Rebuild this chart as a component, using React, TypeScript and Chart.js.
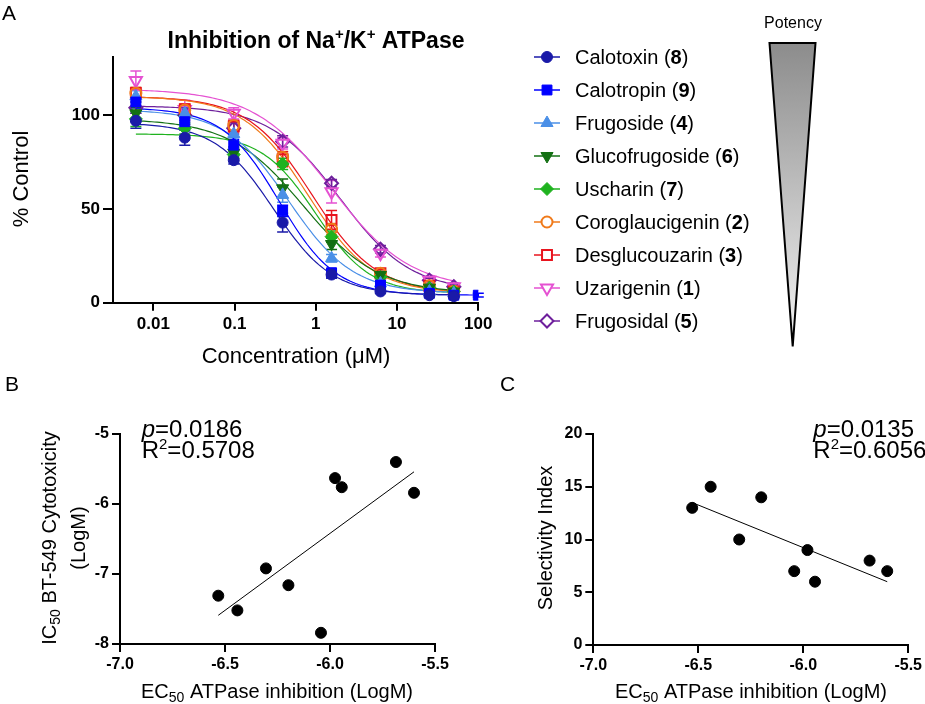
import React, { useEffect, useRef } from 'react';
import { Chart, registerables } from 'chart.js';

Chart.register(...registerables);

const FONT = '"Liberation Sans", Arial, Helvetica, sans-serif';
Chart.defaults.font.family = FONT;
Chart.defaults.color = '#000';

// ---------------- Panel A data ----------------
const concentrations = [0.0061, 0.0244, 0.0977, 0.3906, 1.5625, 6.25, 25, 50];
const concentrationsCalotropin = [0.0061, 0.0244, 0.0977, 0.3906, 1.5625, 6.25, 25, 50, 100];

const seriesNames = ['Calotoxin', 'Calotropin', 'Frugoside', 'Glucofrugoside', 'Uscharin', 'Coroglaucigenin', 'Desglucouzarin', 'Uzarigenin', 'Frugosidal'];
const seriesNumbers = ['8', '9', '4', '6', '7', '2', '3', '1', '5'];
const seriesColors = ['#1a1aa8', '#0000ff', '#4a8fe7', '#137013', '#1fb21f', '#f07a1a', '#e8141e', '#e552d2', '#6e1f9c'];
const seriesMarkers = ['circle', 'rect', 'triangle', 'triangleDown', 'rectRot', 'circle', 'rect', 'triangleDown', 'rectRot'];
const seriesFilled = [true, true, true, true, true, false, false, false, false];

const calotoxinValues = [97, 88, 76, 42.7, 15, 6, 4, 3.5];
const calotropinValues = [107, 96.5, 84, 49, 16, 9.4, 5, 4, 4];
const frugosideValues = [110, 101, 90, 57.5, 23.7, 10.3, 6, 5];
const glucofrugosideValues = [101, 98, 80, 61, 31.3, 14.8, 8, 6];
const uscharinValues = [98, 93, 79, 74, 35.2, 13.7, 8, 6];
const coroglaucigeninValues = [111.7, 102.8, 94.5, 77.6, 39.2, 15.7, 9, 6];
const desglucouzarinValues = [111.7, 103, 94, 76.5, 44.1, 15.7, 9, 6];
const uzarigeninValues = [118.5, 103, 101, 85, 59.2, 26.4, 12, 8.5];
const frugosidalValues = [104, 100, 93, 86, 63.7, 28.5, 12, 8.5];

const calotoxinErrors = [4, 4, 2, 5, 2, 1, 1, 1];
const calotropinErrors = [3, 3, 3, 3, 2, 1, 1, 1, 1];
const frugosideErrors = [3, 3, 2, 4, 2, 1, 1, 1];
const glucofrugosideErrors = [3, 3, 3, 5, 3, 2, 1, 1];
const uscharinErrors = [4, 3, 2, 3, 3, 2, 1, 1];
const coroglaucigeninErrors = [3, 3, 3, 3, 3, 2, 1, 1];
const desglucouzarinErrors = [3, 3, 3, 4, 5, 2, 1, 1];
const uzarigeninErrors = [5, 5, 3, 3, 6, 2, 2, 2];
const frugosidalErrors = [3, 3, 3, 3, 2, 2, 1, 1];

// four-parameter logistic fit parameters
const fitTop = [96, 104, 103, 98, 90, 110, 110, 114, 105];
const fitBottom = [4, 4, 5, 5, 5, 5, 5, 7, 6];
const fitLogIC50 = [-0.52, -0.45, -0.33, -0.15, 0, -0.097, -0.046, 0.2, 0.3];
const fitHill = [1.2, 1.25, 1.1, 0.95, 1.3, 1.1, 1.1, 0.9, 1.0];

const yTicksA = [0, 50, 100];
const xTicksA = [0.01, 0.1, 1, 10, 100];
const xTickLabelsA = ['0.01', '0.1', '1', '10', '100'];

// ---------------- Panel B data ----------------
const ec50B = [-6.532, -6.441, -6.305, -6.198, -6.043, -5.976, -5.944, -5.686, -5.60];
const ic50B = [-7.31, -7.52, -6.92, -7.16, -7.84, -5.63, -5.76, -5.40, -5.84];
const fitLineBX = [-6.532, -5.60];
const fitLineBY = [-7.59, -5.54];

// ---------------- Panel C data ----------------
const ec50C = [-6.529, -6.441, -6.305, -6.20, -6.043, -5.98, -5.944, -5.684, -5.60];
const selectivityC = [13, 15, 10, 14, 7, 9, 6, 8, 7];
const fitLineCX = [-6.529, -5.60];
const fitLineCY = [13.5, 6.0];

// ---------------- helpers ----------------
type Seg = { t: string; size: number; bold?: boolean; italic?: boolean; dy?: number };
const segFont = (s: Seg) => `${s.italic ? 'italic ' : ''}${s.bold ? 'bold ' : ''}${s.size}px ${FONT}`;
function richWidth(ctx: CanvasRenderingContext2D, segs: Seg[]) {
  let w = 0;
  for (const s of segs) {
    ctx.font = segFont(s);
    w += ctx.measureText(s.t).width;
  }
  return w;
}
function drawRich(ctx: CanvasRenderingContext2D, segs: Seg[], x: number, y: number, align: 'left' | 'center') {
  const w = richWidth(ctx, segs);
  let cx = align === 'center' ? x - w / 2 : x;
  ctx.textAlign = 'left';
  ctx.textBaseline = 'alphabetic';
  for (const s of segs) {
    ctx.font = segFont(s);
    ctx.fillText(s.t, cx, y + (s.dy || 0));
    cx += ctx.measureText(s.t).width;
  }
}
function drawMarker(ctx: CanvasRenderingContext2D, style: string, x: number, y: number, r: number, color: string, filled: boolean) {
  ctx.beginPath();
  if (style === 'circle') ctx.arc(x, y, r, 0, Math.PI * 2);
  else if (style === 'rect') {
    const s = r * Math.SQRT1_2;
    ctx.rect(x - s, y - s, 2 * s, 2 * s);
  } else if (style === 'triangle') {
    ctx.moveTo(x, y - r);
    ctx.lineTo(x + 0.866 * r, y + 0.5 * r);
    ctx.lineTo(x - 0.866 * r, y + 0.5 * r);
  } else if (style === 'triangleDown') {
    ctx.moveTo(x, y + r);
    ctx.lineTo(x - 0.866 * r, y - 0.5 * r);
    ctx.lineTo(x + 0.866 * r, y - 0.5 * r);
  } else if (style === 'rectRot') {
    ctx.moveTo(x, y - r);
    ctx.lineTo(x + r, y);
    ctx.lineTo(x, y + r);
    ctx.lineTo(x - r, y);
  }
  ctx.closePath();
  ctx.fillStyle = filled ? color : '#fff';
  ctx.fill();
  ctx.strokeStyle = color;
  ctx.lineWidth = filled ? 1 : 2;
  ctx.stroke();
}
const markerRadius = (style: string) => (style === 'circle' ? 5.5 : style === 'rect' ? 7 : style === 'rectRot' ? 6.5 : 7);

const errorBarPlugin = {
  id: 'errorBars',
  beforeDatasetsDraw(chart: any) {
    const { ctx } = chart;
    const x = chart.scales.x;
    const y = chart.scales.y;
    chart.data.datasets.forEach((ds: any) => {
      if (!ds.errors) return;
      ctx.save();
      ctx.strokeStyle = ds.borderColor;
      ctx.lineWidth = 1.5;
      ds.data.forEach((p: any, j: number) => {
        const e = ds.errors[j];
        if (!e) return;
        const px = x.getPixelForValue(p.x);
        const yt = y.getPixelForValue(p.y + e);
        const yb = y.getPixelForValue(p.y - e);
        ctx.beginPath();
        ctx.moveTo(px, yt);
        ctx.lineTo(px, yb);
        ctx.moveTo(px - 5.5, yt);
        ctx.lineTo(px + 5.5, yt);
        ctx.moveTo(px - 5.5, yb);
        ctx.lineTo(px + 5.5, yb);
        ctx.stroke();
      });
      ctx.restore();
    });
  },
};

const panelAPlugin = {
  id: 'panelA',
  afterDraw(chart: any) {
    const ctx: CanvasRenderingContext2D = chart.ctx;
    ctx.save();
    ctx.fillStyle = '#000';
    drawRich(ctx, [{ t: 'A', size: 21 }], 2, 20, 'left');
    drawRich(
      ctx,
      [
        { t: 'Inhibition of Na', size: 23, bold: true },
        { t: '+', size: 15, bold: true, dy: -9 },
        { t: '/K', size: 23, bold: true },
        { t: '+', size: 15, bold: true, dy: -9 },
        { t: ' ATPase', size: 23, bold: true },
      ],
      316,
      48,
      'center'
    );
    // axis titles
    drawRich(ctx, [{ t: 'Concentration (\u03bcM)', size: 22 }], 296, 363, 'center');
    ctx.save();
    ctx.translate(28, 179);
    ctx.rotate(-Math.PI / 2);
    drawRich(ctx, [{ t: '% Control', size: 22 }], 0, 0, 'center');
    ctx.restore();
    // legend
    for (let i = 0; i < seriesNames.length; i++) {
      const ry = 57 + i * 33;
      ctx.strokeStyle = seriesColors[i];
      ctx.lineWidth = 1.5;
      ctx.beginPath();
      ctx.moveTo(534, ry);
      ctx.lineTo(560, ry);
      ctx.stroke();
      drawMarker(ctx, seriesMarkers[i], 547, ry, markerRadius(seriesMarkers[i]), seriesColors[i], seriesFilled[i]);
      ctx.fillStyle = '#000';
      drawRich(
        ctx,
        [
          { t: seriesNames[i] + ' (', size: 20 },
          { t: seriesNumbers[i], size: 20, bold: true },
          { t: ')', size: 20 },
        ],
        575,
        ry + 7,
        'left'
      );
    }
    // potency wedge
    ctx.fillStyle = '#000';
    drawRich(ctx, [{ t: 'Potency', size: 16 }], 793, 28, 'center');
    const g = ctx.createLinearGradient(0, 43, 0, 347);
    g.addColorStop(0, '#8c8c8c');
    g.addColorStop(1, '#f4f4f4');
    ctx.beginPath();
    ctx.moveTo(769.5, 43);
    ctx.lineTo(815.5, 43);
    ctx.lineTo(792.7, 346.5);
    ctx.closePath();
    ctx.fillStyle = g;
    ctx.fill();
    ctx.strokeStyle = '#000';
    ctx.lineWidth = 2;
    ctx.lineJoin = 'miter';
    ctx.stroke();
    ctx.restore();
  },
};

function makePanelBC(letter: string, letterX: number, textX: number, pVal: string, r2Val: string, yTitle: string[], yTitleX: number[], xTitleCenter: number) {
  return {
    id: 'panel' + letter,
    afterDraw(chart: any) {
      const ctx: CanvasRenderingContext2D = chart.ctx;
      ctx.save();
      ctx.fillStyle = '#000';
      drawRich(ctx, [{ t: letter, size: 21 }], letterX, 31, 'left');
      drawRich(ctx, [{ t: 'p', size: 24, italic: true }, { t: '=' + pVal, size: 24 }], textX, 77.3, 'left');
      drawRich(ctx, [{ t: 'R', size: 24 }, { t: '2', size: 15, dy: -9 }, { t: '=' + r2Val, size: 24 }], textX, 98.3, 'left');
      drawRich(ctx, [{ t: 'EC', size: 20 }, { t: '50', size: 14, dy: 4 }, { t: ' ATPase inhibition (LogM)', size: 20 }], xTitleCenter, 338, 'center');
      yTitle.forEach((line, k) => {
        ctx.save();
        ctx.translate(yTitleX[k], 178);
        ctx.rotate(-Math.PI / 2);
        const segs: Seg[] = line.startsWith('IC50')
          ? [{ t: 'IC', size: 20 }, { t: '50', size: 14, dy: 4 }, { t: line.slice(4), size: 20 }]
          : [{ t: line, size: 20 }];
        drawRich(ctx, segs, 0, 0, 'center');
        ctx.restore();
      });
      ctx.restore();
    },
  };
}

function axisCommon(tickLength: number, fontSize: number) {
  return {
    grid: { display: true, drawOnChartArea: false, drawTicks: true, tickLength, color: '#000', lineWidth: 2 },
    border: { display: true, color: '#000', width: 2 },
    ticks: { font: { size: fontSize, weight: 'bold' as const }, color: '#000', padding: 3, autoSkip: false, maxRotation: 0 },
  };
}

function logistic(i: number, x: number) {
  return fitBottom[i] + (fitTop[i] - fitBottom[i]) / (1 + Math.pow(10, (Math.log10(x) - fitLogIC50[i]) * fitHill[i]));
}

function configA(): any {
  const valueLists = [calotoxinValues, calotropinValues, frugosideValues, glucofrugosideValues, uscharinValues, coroglaucigeninValues, desglucouzarinValues, uzarigeninValues, frugosidalValues];
  const errorLists = [calotoxinErrors, calotropinErrors, frugosideErrors, glucofrugosideErrors, uscharinErrors, coroglaucigeninErrors, desglucouzarinErrors, uzarigeninErrors, frugosidalErrors];
  const markerSets: any[] = [];
  const curveSets: any[] = [];
  valueLists.forEach((vals, i) => {
    const xs = vals.length === concentrationsCalotropin.length ? concentrationsCalotropin : concentrations;
    const style = seriesMarkers[i];
    markerSets.push({
      data: vals.map((v, j) => ({ x: xs[j], y: v })),
      errors: errorLists[i],
      showLine: false,
      order: 0,
      pointStyle: style === 'triangleDown' ? 'triangle' : style,
      rotation: style === 'triangleDown' ? 180 : 0,
      pointRadius: markerRadius(style),
      pointHoverRadius: markerRadius(style),
      borderColor: seriesColors[i],
      backgroundColor: seriesFilled[i] ? seriesColors[i] : 'rgba(255,255,255,0)',
      pointBorderWidth: seriesFilled[i] ? 1 : 2,
    });
    const x0 = Math.log10(xs[0]);
    const x1 = Math.log10(xs[xs.length - 1]);
    const pts = [];
    for (let k = 0; k <= 120; k++) {
      const x = Math.pow(10, x0 + ((x1 - x0) * k) / 120);
      pts.push({ x, y: logistic(i, x) });
    }
    curveSets.push({
      data: pts,
      showLine: true,
      order: 1,
      pointRadius: 0,
      borderColor: seriesColors[i],
      borderWidth: 1.2,
      tension: 0,
    });
  });
  const cx = axisCommon(8, 17);
  const cy = axisCommon(10, 17);
  return {
    type: 'scatter',
    data: { datasets: [...markerSets, ...curveSets] },
    options: {
      responsive: false,
      animation: false,
      events: [],
      layout: { padding: { left: 0, top: 57, right: 925 - 478.3, bottom: 0 } },
      plugins: { legend: { display: false }, tooltip: { enabled: false }, title: { display: false } },
      scales: {
        x: {
          type: 'logarithmic',
          min: 0.00319,
          max: 100,
          ...cx,
          ticks: { ...cx.ticks, callback: (_v: any, idx: number) => xTickLabelsA[idx] },
          afterBuildTicks: (s: any) => {
            s.ticks = xTicksA.map((v) => ({ value: v }));
          },
          afterFit: (s: any) => {
            s.height = 380 - 302.7;
          },
        },
        y: {
          type: 'linear',
          min: 0,
          max: 131,
          ...cy,
          afterBuildTicks: (s: any) => {
            s.ticks = yTicksA.map((v) => ({ value: v }));
          },
          afterFit: (s: any) => {
            s.width = 113;
          },
        },
      },
    },
    plugins: [errorBarPlugin, panelAPlugin],
  };
}

function configScatter(
  xs: number[],
  ys: number[],
  lineX: number[],
  lineY: number[],
  yMin: number,
  yMax: number,
  yStep: number,
  yAxisWidth: number,
  rightPad: number,
  xAxisHeight: number,
  plugin: any
): any {
  const cx = axisCommon(8, 16);
  const cy = axisCommon(8, 16);
  return {
    type: 'scatter',
    data: {
      datasets: [
        {
          data: xs.map((x, i) => ({ x, y: ys[i] })),
          pointStyle: 'circle',
          pointRadius: 5.5,
          backgroundColor: '#000',
          borderColor: '#000',
          showLine: false,
          order: 0,
        },
        {
          data: lineX.map((x, i) => ({ x, y: lineY[i] })),
          showLine: true,
          pointRadius: 0,
          borderColor: '#000',
          borderWidth: 1,
          order: 1,
        },
      ],
    },
    options: {
      responsive: false,
      animation: false,
      events: [],
      layout: { padding: { left: 0, top: 74, right: rightPad, bottom: 0 } },
      plugins: { legend: { display: false }, tooltip: { enabled: false } },
      scales: {
        x: {
          type: 'linear',
          min: -7,
          max: -5.5,
          ...cx,
          ticks: { ...cx.ticks, stepSize: 0.5, callback: (v: any) => Number(v).toFixed(1) },
          afterFit: (s: any) => {
            s.height = xAxisHeight;
          },
        },
        y: {
          type: 'linear',
          min: yMin,
          max: yMax,
          ...cy,
          ticks: { ...cy.ticks, stepSize: yStep, callback: (v: any) => String(Math.round(Number(v))) },
          afterFit: (s: any) => {
            s.width = yAxisWidth;
          },
        },
      },
    },
    plugins: [plugin],
  };
}

function ChartCanvas({ left, top, width, height, make }: { left: number; top: number; width: number; height: number; make: () => any }) {
  const ref = useRef<HTMLCanvasElement>(null);
  useEffect(() => {
    const chart = new Chart(ref.current as HTMLCanvasElement, make());
    return () => chart.destroy();
  }, []);
  return <canvas ref={ref} width={width} height={height} style={{ position: 'absolute', left, top, width, height }} />;
}

export default function App() {
  const pluginB = makePanelBC('B', 5, 141.7, '0.0186', '0.5708', ['IC50 BT-549 Cytotoxicity', '(LogM)'], [56, 85], 277);
  const pluginC = makePanelBC('C', 40, 353.3, '0.0135', '0.6056', ['Selectivity Index'], [92], 291);
  return (
    <div style={{ position: 'absolute', left: 0, top: 0, width: 925, height: 704, background: '#fff', overflow: 'hidden' }}>
      <ChartCanvas left={0} top={0} width={925} height={380} make={configA} />
      <ChartCanvas
        left={0}
        top={360}
        width={460}
        height={344}
        make={() => configScatter(ec50B, ic50B, fitLineBX, fitLineBY, -8, -5, 1, 120, 25, 60, pluginB)}
      />
      <ChartCanvas
        left={460}
        top={360}
        width={465}
        height={344}
        make={() => configScatter(ec50C, selectivityC, fitLineCX, fitLineCY, 0, 20, 5, 133.3, 15.7, 59, pluginC)}
      />
    </div>
  );
}
